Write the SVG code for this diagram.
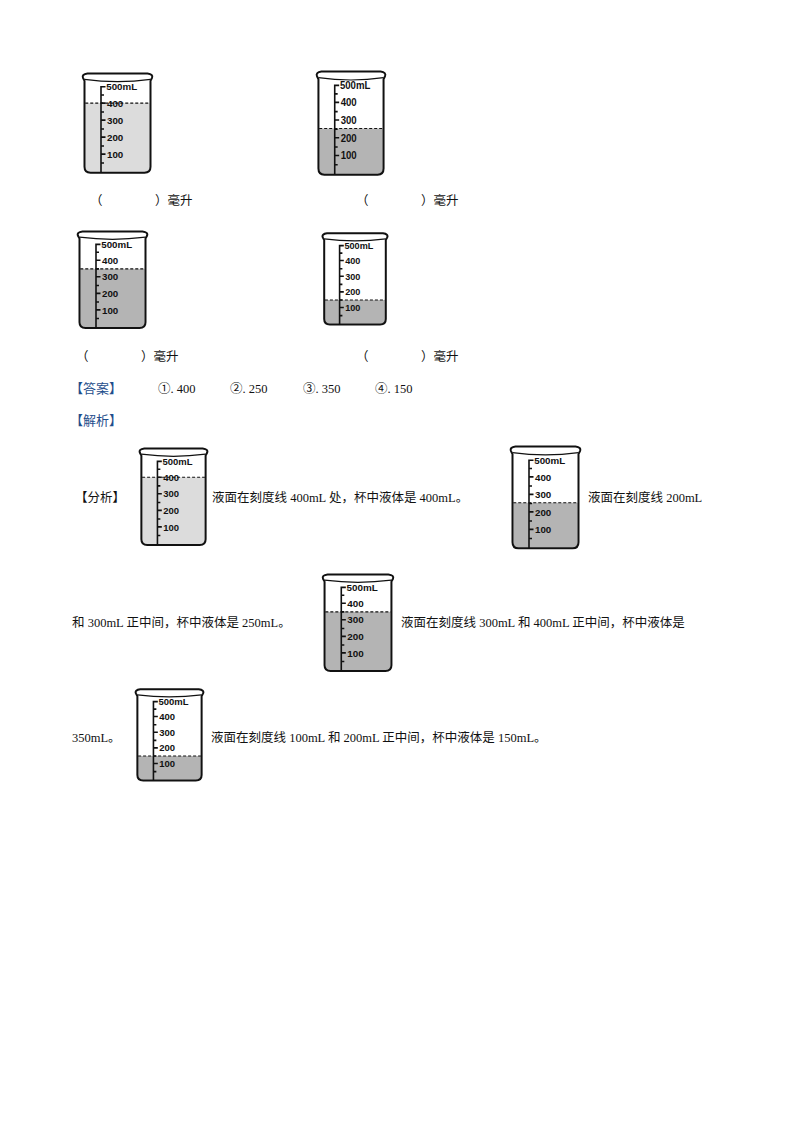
<svg xmlns="http://www.w3.org/2000/svg" xmlns:xlink="http://www.w3.org/1999/xlink" width="794" height="1123" viewBox="0 0 794 1123">
<style>
text{font-family:"Liberation Serif","Noto Sans CJK SC",serif;font-size:12.5px;fill:#111}
.hd{font-family:"Noto Sans CJK SC",sans-serif;fill:#1f4e8c;font-size:13px}
.s{vector-effect:non-scaling-stroke;fill:none;stroke:#111}
.sc{font-family:"Liberation Sans",sans-serif;font-weight:bold;font-size:13px}
</style>
<defs>
<g id="beaker">
<path class="s" stroke-width="2" d="M4 8 Q2 3 10 2 H90 Q98 3 96 8 L94 12 V128 Q94 136 86 136 H14 Q6 136 6 128 V12 Z"/>
<path class="s" stroke-width="1.2" d="M6 10 Q50 16 94 10"/>
<path class="s" stroke-width="1.6" d="M28 136 V20 H34 M28 42 H34 M28 65 H34 M28 88 H34 M28 111 H34 M28 31 H32 M28 54 H32 M28 77 H32 M28 100 H32 M28 123 H32"/>
<text class="sc" x="35" y="25">500mL</text>
<text class="sc" x="36" y="47">400</text>
<text class="sc" x="36" y="70">300</text>
<text class="sc" x="36" y="93">200</text>
<text class="sc" x="36" y="116">100</text>
</g>
</defs>
<g id="beaker1" transform="translate(80,72) scale(0.75,0.74)"><rect x="7" y="42" width="86" height="93" fill="#dcdcdc"/><path class="s" stroke-width="1.2" stroke-dasharray="3,2" d="M7 42 H93"/><use xlink:href="#beaker"/></g>
<g id="beaker2" transform="translate(314,70) scale(0.74,0.77)"><rect x="7" y="76" width="86" height="59" fill="#b4b4b4"/><path class="s" stroke-width="1.2" stroke-dasharray="3,2" d="M7 76 H93"/><use xlink:href="#beaker"/></g>
<g id="beaker3" transform="translate(75,230) scale(0.75,0.72)"><rect x="7" y="54" width="86" height="81" fill="#b4b4b4"/><path class="s" stroke-width="1.2" stroke-dasharray="3,2" d="M7 54 H93"/><use xlink:href="#beaker"/></g>
<g id="beaker4" transform="translate(320,232) scale(0.70,0.68)"><rect x="7" y="100" width="86" height="35" fill="#b4b4b4"/><path class="s" stroke-width="1.2" stroke-dasharray="3,2" d="M7 100 H93"/><use xlink:href="#beaker"/></g>
<text x="90" y="205">（</text><text x="155" y="205">）毫升</text>
<text x="356" y="205">（</text><text x="421" y="205">）毫升</text>
<text x="76" y="361">（</text><text x="141" y="361">）毫升</text>
<text x="356" y="361">（</text><text x="421" y="361">）毫升</text>
<text class="hd" x="70" y="393">【答案】</text>
<text x="158" y="393">①. 400</text>
<text x="230" y="393">②. 250</text>
<text x="303" y="393">③. 350</text>
<text x="375" y="393">④. 150</text>
<text class="hd" x="70" y="425">【解析】</text>
<text x="75" y="502">【分析】</text>
<g id="beaker5" transform="translate(137,447) scale(0.73,0.72)"><rect x="7" y="42" width="86" height="93" fill="#dcdcdc"/><path class="s" stroke-width="1.2" stroke-dasharray="3,2" d="M7 42 H93"/><use xlink:href="#beaker"/></g>
<text x="212" y="502">液面在刻度线 400mL 处，杯中液体是 400mL。</text>
<g id="beaker6" transform="translate(508,445) scale(0.75,0.76)"><rect x="7" y="76" width="86" height="59" fill="#b4b4b4"/><path class="s" stroke-width="1.2" stroke-dasharray="3,2" d="M7 76 H93"/><use xlink:href="#beaker"/></g>
<text x="588" y="502">液面在刻度线 200mL</text>
<text x="72" y="627">和 300mL 正中间，杯中液体是 250mL。</text>
<g id="beaker7" transform="translate(320,573) scale(0.76,0.72)"><rect x="7" y="54" width="86" height="81" fill="#b4b4b4"/><path class="s" stroke-width="1.2" stroke-dasharray="3,2" d="M7 54 H93"/><use xlink:href="#beaker"/></g>
<text x="401" y="627">液面在刻度线 300mL 和 400mL 正中间，杯中液体是</text>
<text x="72" y="742">350mL。</text>
<g id="beaker8" transform="translate(133,688) scale(0.73,0.68)"><rect x="7" y="100" width="86" height="35" fill="#b4b4b4"/><path class="s" stroke-width="1.2" stroke-dasharray="3,2" d="M7 100 H93"/><use xlink:href="#beaker"/></g>
<text x="211" y="742">液面在刻度线 100mL 和 200mL 正中间，杯中液体是 150mL。</text>
</svg>
